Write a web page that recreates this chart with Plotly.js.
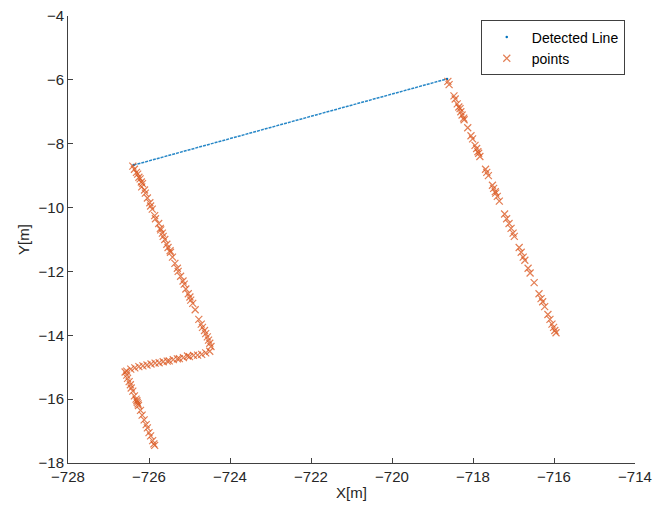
<!DOCTYPE html>
<html>
<head>
<meta charset="utf-8">
<script src="https://cdn.plot.ly/plotly-3.0.1.min.js"></script>
<style>html,body{margin:0;padding:0;background:#fff;}#chart{width:665px;height:506px;}</style>
</head>
<body>
<div id="chart"></div>
<script>
// Detected line (endpoints)
var lineX = [-726.38, -718.64];
var lineY = [-8.67, -5.97];

// Measured points, segment by segment
var seg1X = [-726.40,-726.36,-726.31,-726.28,-726.25,-726.22,-726.19,-726.16,-726.18,-726.11,-726.09,-726.04,-725.98,-725.96,-725.92,-725.86,-725.84,-725.76,-725.72,-725.71,-725.67,-725.65,-725.61,-725.56,-725.53,-725.48,-725.47,-725.42,-725.36,-725.30,-725.28,-725.22,-725.16,-725.13,-725.09,-725.03,-724.99,-724.97,-724.92,-724.86,-724.77,-724.71,-724.68,-724.63,-724.60,-724.56,-724.53,-724.50,-724.47];
var seg1Y = [-8.70,-8.80,-8.90,-8.95,-9.05,-9.10,-9.20,-9.25,-9.35,-9.45,-9.55,-9.70,-9.85,-9.95,-10.05,-10.25,-10.35,-10.50,-10.65,-10.70,-10.80,-10.90,-11.00,-11.15,-11.25,-11.35,-11.40,-11.55,-11.75,-11.90,-12.00,-12.15,-12.30,-12.40,-12.55,-12.70,-12.80,-12.90,-13.00,-13.20,-13.50,-13.65,-13.75,-13.85,-13.95,-14.05,-14.15,-14.25,-14.35];

var seg2X = [-724.50,-724.60,-724.70,-724.80,-724.90,-725.00,-725.05,-725.15,-725.25,-725.30,-725.40,-725.50,-725.55,-725.65,-725.75,-725.85,-725.95,-726.05,-726.15,-726.25,-726.35,-726.45,-726.55];
var seg2Y = [-14.50,-14.55,-14.60,-14.62,-14.63,-14.67,-14.65,-14.70,-14.73,-14.74,-14.76,-14.80,-14.81,-14.83,-14.86,-14.87,-14.90,-14.93,-14.96,-14.98,-15.02,-15.06,-15.12];

var seg3X = [-726.59,-726.55,-726.53,-726.49,-726.46,-726.44,-726.40,-726.36,-726.32,-726.30,-726.29,-726.27,-726.26,-726.21,-726.17,-726.12,-726.07,-726.04,-726.00,-725.96,-725.91,-725.88,-725.86];
var seg3Y = [-15.15,-15.25,-15.35,-15.45,-15.55,-15.65,-15.75,-15.90,-16.00,-16.05,-16.10,-16.15,-16.20,-16.35,-16.50,-16.65,-16.80,-16.90,-17.05,-17.15,-17.30,-17.40,-17.45];

var seg4X = [-718.62,-718.59,-718.47,-718.44,-718.39,-718.35,-718.32,-718.30,-718.27,-718.23,-718.22,-718.13,-718.05,-718.01,-717.95,-717.91,-717.88,-717.86,-717.83,-717.69,-717.66,-717.62,-717.52,-717.49,-717.45,-717.44,-717.40,-717.35,-717.22,-717.17,-717.11,-717.06,-717.01,-716.98,-716.86,-716.81,-716.76,-716.72,-716.64,-716.59,-716.49,-716.37,-716.32,-716.28,-716.23,-716.15,-716.10,-716.05,-716.01,-715.98,-715.95];
var seg4Y = [-6.05,-6.15,-6.50,-6.60,-6.75,-6.85,-6.90,-7.00,-7.10,-7.20,-7.25,-7.50,-7.75,-7.85,-8.05,-8.15,-8.25,-8.30,-8.40,-8.80,-8.90,-9.00,-9.30,-9.40,-9.50,-9.55,-9.65,-9.80,-10.20,-10.35,-10.50,-10.65,-10.80,-10.90,-11.25,-11.40,-11.55,-11.65,-11.90,-12.05,-12.35,-12.70,-12.85,-12.95,-13.10,-13.35,-13.50,-13.65,-13.75,-13.85,-13.92];

var xTicks = [-728,-726,-724,-722,-720,-718,-716,-714];
var yTicks = [-18,-16,-14,-12,-10,-8,-6,-4];

var ptsX = seg1X.concat(seg2X, seg3X, seg4X);
var ptsY = seg1Y.concat(seg2Y, seg3Y, seg4Y);

var blue = '#0072BD', orange = '#D95319';
var font = 'Liberation Sans, Arial, sans-serif';

var traces = [
  {x: lineX, y: lineY, mode: 'lines', line: {color: blue, width: 1.5, dash: '3px,1px'}, opacity: 0.85, showlegend: false, hoverinfo: 'skip'},
  {x: lineX, y: lineY, mode: 'markers', name: 'Detected Line', marker: {color: blue, size: 2.5}},
  {x: ptsX, y: ptsY, mode: 'markers', name: 'points',
   marker: {symbol: 'x-thin-open', size: 7, color: orange, opacity: 0.75, line: {color: orange, width: 1.2}}}
];

function lbl(v){ return String(v).replace('-', '\u2212'); }

var axisCommon = {
  showgrid: false, zeroline: false, showline: true, linecolor: '#404040', linewidth: 1,
  ticks: 'inside', ticklen: 5, tickcolor: '#404040', mirror: false,
  tickfont: {family: font, size: 15, color: '#262626'}
};

var layout = {
  width: 665, height: 506,
  margin: {l: 68, r: 30, t: 16, b: 43},
  paper_bgcolor: '#fff', plot_bgcolor: '#fff',
  xaxis: Object.assign({}, axisCommon, {range: [-728, -714], tickvals: xTicks, ticktext: xTicks.map(lbl),
    title: {text: 'X[m]', font: {family: font, size: 15, color: '#262626'}, standoff: 3}}),
  yaxis: Object.assign({}, axisCommon, {range: [-18, -4], tickvals: yTicks, ticktext: yTicks.map(lbl),
    title: {text: 'Y[m]', font: {family: font, size: 15, color: '#262626'}, standoff: 5}}),
  legend: {x: 0.728, y: 0.99, xanchor: 'left', yanchor: 'top', bgcolor: '#fff', bordercolor: '#404040', borderwidth: 1,
    itemwidth: 40, font: {family: font, size: 14, color: '#000'}, tracegroupgap: 0},
  showlegend: true
};

Plotly.newPlot('chart', traces, layout, {staticPlot: true});
</script>
</body>
</html>
